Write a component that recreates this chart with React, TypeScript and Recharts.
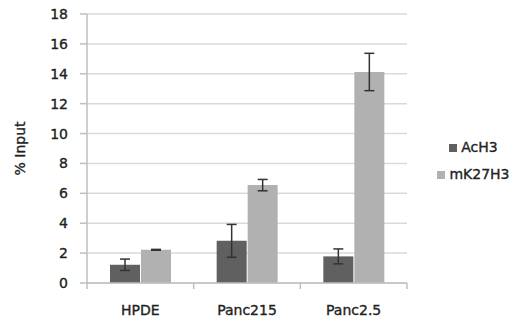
import { Bar, BarChart, CartesianGrid, ErrorBar, Legend, XAxis, YAxis } from "recharts";

const categories = ["HPDE", "Panc215", "Panc2.5"];
const acH3 = [1.22, 2.82, 1.78];
const acH3Err = [0.38, 1.1, 0.5];
const mK27H3 = [2.22, 6.55, 14.12];
const mK27H3Err = [0.03, 0.38, 1.25];
const yTicks = [0, 2, 4, 6, 8, 10, 12, 14, 16, 18];

const data = categories.map((name, i) => ({
  name,
  AcH3: acH3[i],
  acErr: acH3Err[i],
  mK27H3: mK27H3[i],
  mkErr: mK27H3Err[i],
}));

const font = "'DejaVu Sans', Verdana, sans-serif";
const ink = "#222";
const band = 320 / categories.length;
// slight outline so the regular face reads like the heavier original
const heavy = { stroke: ink, strokeWidth: 0.35 };

function CategoryTick(props: any) {
  const { x, y, payload, index } = props;
  const last = index === categories.length - 1;
  return (
    <g>
      <line x1={x - band / 2} y1={y - 8} x2={x - band / 2} y2={y - 2} stroke="#bfbfbf" strokeWidth={1.5} />
      {last && (
        <line x1={x + band / 2} y1={y - 8} x2={x + band / 2} y2={y - 2} stroke="#bfbfbf" strokeWidth={1.5} />
      )}
      <text x={x} y={y + 24} textAnchor="middle" fill={ink} fontSize={14} fontFamily={font} {...heavy}>
        {payload.value}
      </text>
    </g>
  );
}

export default function App() {
  return (
    <div style={{ position: "fixed", left: 0, top: 0, width: 520, height: 322, background: "#fff" }}>
      <BarChart
        width={520}
        height={322}
        data={data}
        margin={{ top: 14, right: 113, bottom: 0, left: 0 }}
        barGap={1}
        barSize={30}
      >
        <CartesianGrid vertical={false} stroke="#d9d9d9" strokeWidth={1.5} />
        <XAxis
          dataKey="name"
          axisLine={{ stroke: "#bfbfbf", strokeWidth: 1.5 }}
          tickLine={false}
          tick={<CategoryTick />}
          height={39}
          interval={0}
        />
        <YAxis
          domain={[0, 18]}
          ticks={yTicks}
          interval={0}
          width={87}
          axisLine={{ stroke: "#bfbfbf", strokeWidth: 1.5 }}
          tickLine={{ stroke: "#bfbfbf", strokeWidth: 1.5 }}
          tickSize={7}
          tickMargin={12}
          tick={{ fill: ink, fontSize: 14, fontFamily: font, ...heavy }}
          label={{
            value: "% Input",
            angle: -90,
            position: "insideLeft",
            offset: 20,
            style: { fill: ink, fontSize: 14, fontFamily: font, textAnchor: "middle", ...heavy },
          }}
        />
        <Legend
          layout="horizontal"
          align="center"
          verticalAlign="middle"
          iconType="square"
          iconSize={8}
          wrapperStyle={{
            left: 437,
            top: 134,
            width: 83,
            textAlign: "left",
            fontFamily: font,
            fontSize: 14,
            lineHeight: "27px",
          }}
          formatter={(v: string) => (
            <span style={{ color: ink, WebkitTextStroke: "0.35px #222" }}>{v}</span>
          )}
        />
        <Bar dataKey="AcH3" fill="#606060" isAnimationActive={false}>
          <ErrorBar dataKey="acErr" width={5} stroke="#333" strokeWidth={1.5} />
        </Bar>
        <Bar dataKey="mK27H3" fill="#b1b1b1" isAnimationActive={false}>
          <ErrorBar dataKey="mkErr" width={5} stroke="#333" strokeWidth={1.5} />
        </Bar>
      </BarChart>
    </div>
  );
}
